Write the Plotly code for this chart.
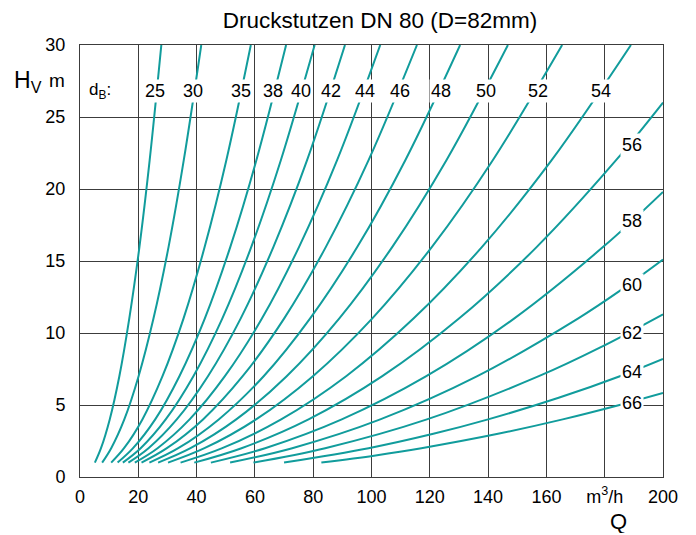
import plotly.graph_objects as go

# ---------------- data ----------------
x_tickvals = [0, 20, 40, 60, 80, 100, 120, 140, 160, 180, 200]
x_ticktext = ["0", "20", "40", "60", "80", "100", "120", "140", "160", "m<sup>3</sup>/h", "200"]
y_tickvals = [0, 5, 10, 15, 20, 25, 30]

bore_labels = ["25", "30", "35", "38", "40", "42", "44", "46", "48",
               "50", "52", "54", "56", "58", "60", "62", "64", "66"]

# H values (m) of the points
H_FULL = [1, 2, 4, 7, 11, 16, 22, 30]
H_56 = [1, 2, 4, 7, 11, 16, 22, 26.0]
H_58 = [1, 2, 4, 7, 11, 16, 19.8]
H_60 = [1, 2, 4, 7, 11, 13, 15.1]
H_62 = [1, 2, 4, 7, 9, 11.3]
H_64 = [1, 2, 3, 4, 5.5, 7, 8.2]
H_66 = [1, 1.5, 2, 3, 4, 5, 5.83]

# Q values (m3/h) of those points
Q_25 = [5.1, 7.2, 10.2, 13.5, 16.9, 20.4, 23.9, 27.9]
Q_30 = [7.6, 10.7, 15.2, 20.1, 25.2, 30.4, 35.6, 41.6]
Q_35 = [10.7, 15.1, 21.4, 28.3, 35.5, 42.8, 50.2, 58.6]
Q_38 = [12.9, 18.2, 25.8, 34.1, 42.8, 51.6, 60.5, 70.7]
Q_40 = [14.7, 20.8, 29.4, 38.9, 48.8, 58.8, 68.9, 80.5]
Q_42 = [16.6, 23.5, 33.2, 43.9, 55.1, 66.4, 77.9, 90.9]
Q_44 = [18.8, 26.6, 37.6, 49.7, 62.4, 75.2, 88.2, 103.0]
Q_46 = [21.1, 29.8, 42.2, 55.8, 70.0, 84.4, 99.0, 115.6]
Q_48 = [23.8, 33.7, 47.6, 63.0, 78.9, 95.2, 111.6, 130.4]
Q_50 = [26.8, 37.9, 53.6, 70.9, 88.9, 107.2, 125.7, 146.8]
Q_52 = [30.2, 42.7, 60.4, 79.9, 100.2, 120.8, 141.6, 165.4]
Q_54 = [34.5, 48.8, 69.0, 91.3, 114.4, 138.0, 161.8, 189.0]
Q_56 = [39.2, 55.4, 78.4, 103.7, 130.0, 156.8, 183.9, 200]
Q_58 = [44.9, 63.5, 89.8, 118.8, 148.9, 179.6, 200]
Q_60 = [51.5, 72.8, 103.0, 136.3, 170.8, 185.7, 200]
Q_62 = [59.5, 84.1, 119.0, 157.4, 178.5, 200]
Q_64 = [70.0, 99.0, 121.2, 140.0, 164.2, 185.2, 200]
Q_66 = [82.8, 101.4, 117.1, 143.4, 165.6, 185.1, 200]

curves_q = [Q_25, Q_30, Q_35, Q_38, Q_40, Q_42, Q_44, Q_46, Q_48,
            Q_50, Q_52, Q_54, Q_56, Q_58, Q_60, Q_62, Q_64, Q_66]
curves_h = [H_FULL] * 12 + [H_56, H_58, H_60, H_62, H_64, H_66]

# label placement (data coordinates)
top_label_q = [25.7, 38.8, 55.2, 66.2, 75.8, 86.1, 97.8, 109.7, 123.8, 139.3, 157.1, 178.7]
top_label_h = 26.8
right_label_q = 189.5
right_label_h = [23.06, 17.8, 13.35, 10.03, 7.26, 5.17]

# ---------------- figure ----------------
FONT = "Liberation Sans, Arial, sans-serif"
TEAL = "#119c9c"
GRID = "#3c3c3c"

fig = go.Figure()
for q, h, lab in zip(curves_q, curves_h, bore_labels):
    fig.add_trace(go.Scatter(
        x=q, y=h, mode="lines", name=lab,
        line=dict(color=TEAL, width=2, shape="spline", smoothing=1.0),
        showlegend=False, hoverinfo="skip"))

annotations = []
for lab, q in zip(bore_labels[:12], top_label_q):
    annotations.append(dict(x=q, y=top_label_h, xref="x", yref="y", text=lab,
                            showarrow=False, bgcolor="white", borderpad=1,
                            font=dict(size=18, color="black", family=FONT)))
for lab, h in zip(bore_labels[12:], right_label_h):
    annotations.append(dict(x=right_label_q, y=h, xref="x", yref="y", text=lab,
                            showarrow=False, bgcolor="white", borderpad=1,
                            font=dict(size=18, color="black", family=FONT)))

# d_B: label
annotations.append(dict(x=6.8, y=top_label_h, xref="x", yref="y",
                        text="d<sub>B</sub>:", showarrow=False,
                        font=dict(size=17, color="black", family=FONT)))
# axis titles
annotations.append(dict(x=0, y=1, xref="paper", yref="paper", xanchor="left", yanchor="middle",
                        xshift=-68, yshift=-36, text="H<sub>V</sub>", showarrow=False,
                        font=dict(size=23, color="black", family=FONT)))
annotations.append(dict(x=0, y=1, xref="paper", yref="paper", xanchor="center", yanchor="middle",
                        xshift=-23, yshift=-35, text="m", showarrow=False,
                        font=dict(size=19, color="black", family=FONT)))
annotations.append(dict(x=1, y=0, xref="paper", yref="paper", xanchor="center", yanchor="bottom",
                        xshift=-45, yshift=-58, height=24, text="Q", showarrow=False,
                        font=dict(size=22, color="black", family=FONT)))

fig.update_layout(
    width=696, height=535,
    margin=dict(l=80, r=33, t=45, b=58),
    paper_bgcolor="white", plot_bgcolor="white",
    title=dict(text="Druckstutzen DN 80 (D=82mm)", x=380 / 696, xanchor="center",
               y=1 - 20 / 535, yanchor="middle",
               font=dict(size=22.5, color="black", family=FONT)),
    annotations=annotations,
    font=dict(family=FONT, color="black"),
)
fig.update_xaxes(range=[0, 200], tickvals=x_tickvals, ticktext=x_ticktext,
                 showgrid=True, gridcolor=GRID, gridwidth=1,
                 showline=True, linecolor=GRID, linewidth=1, mirror=True,
                 zeroline=False, ticks="", ticklabelstandoff=3,
                 tickfont=dict(size=18, color="black", family=FONT))
fig.update_yaxes(range=[0, 30], tickvals=y_tickvals,
                 showgrid=True, gridcolor=GRID, gridwidth=1,
                 showline=True, linecolor=GRID, linewidth=1, mirror=True,
                 zeroline=False, ticks="", ticklabelstandoff=10,
                 tickfont=dict(size=18, color="black", family=FONT))

fig.write_html("out.html")
